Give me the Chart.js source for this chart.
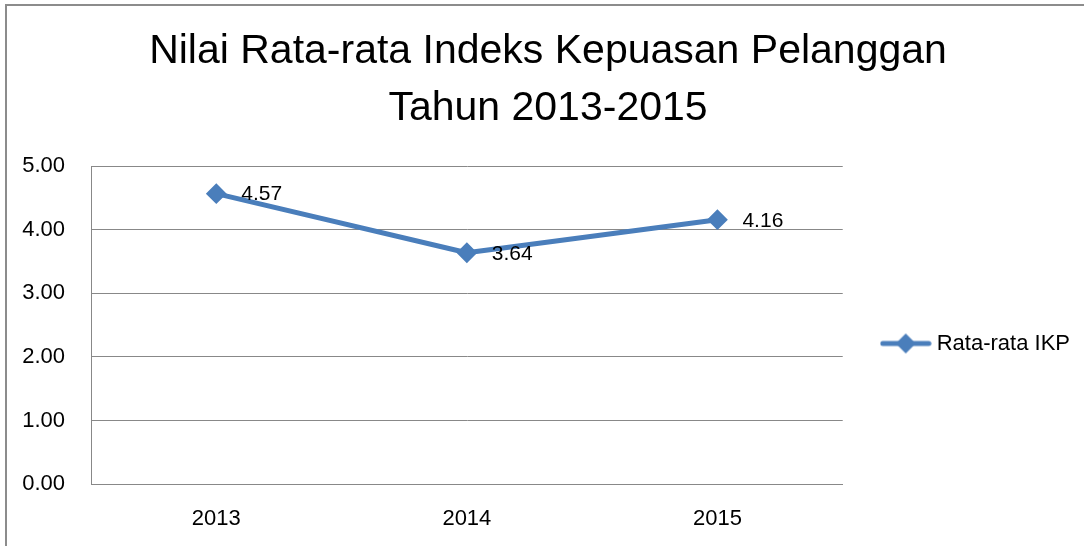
<!DOCTYPE html>
<html>
<head>
<meta charset="utf-8">
<title>Nilai Rata-rata Indeks Kepuasan Pelanggan</title>
<script src="https://cdn.jsdelivr.net/npm/chart.js@4/dist/chart.umd.min.js"></script>
<style>
  html, body { margin: 0; padding: 0; background: #fff; overflow: hidden; }
  .wrap { position: relative; width: 1084px; height: 546px; }
  .frame {
    position: absolute; left: 5px; top: 4px; width: 1200px; height: 700px;
    border-top: 2px solid #8c8c8c; border-left: 2px solid #8c8c8c;
  }
  #myChart { position: absolute; left: 0; top: 0; }
</style>
</head>
<body>
<div class="wrap">
  <div class="frame"></div>
  <canvas id="myChart" width="1084" height="546"></canvas>
</div>
<script>
const years = ['2013', '2014', '2015'];
const ikpValues = [4.57, 3.64, 4.16];
const seriesName = 'Rata-rata IKP';
const titleLines = ['Nilai Rata-rata Indeks Kepuasan Pelanggan', 'Tahun 2013-2015'];

const blue = '#4a7ebb';
const gray = '#888888';
Chart.defaults.font.family = "'Liberation Sans', Arial, sans-serif";
Chart.defaults.color = '#000';

// legend sample: line with a diamond in the middle
const legendMark = document.createElement('canvas');
legendMark.width = 52;
legendMark.height = 22;
(function() {
  const c = legendMark.getContext('2d');
  c.strokeStyle = blue;
  c.fillStyle = blue;
  c.lineWidth = 5;
  c.lineCap = 'round';
  c.beginPath();
  c.moveTo(3, 11);
  c.lineTo(49, 11);
  c.stroke();
  c.beginPath();
  c.moveTo(26 - 10, 11);
  c.lineTo(26, 1);
  c.lineTo(26 + 10, 11);
  c.lineTo(26, 21);
  c.closePath();
  c.fill();
})();

// value labels right of each point
const pointLabels = {
  id: 'pointLabels',
  afterDatasetsDraw(chart) {
    const ctx = chart.ctx;
    const meta = chart.getDatasetMeta(0);
    ctx.save();
    ctx.font = "21px 'Liberation Sans', Arial, sans-serif";
    ctx.fillStyle = '#000';
    ctx.textAlign = 'left';
    ctx.textBaseline = 'middle';
    meta.data.forEach(function(pt, i) {
      ctx.fillText(ikpValues[i].toFixed(2), pt.x + 25, pt.y + 1);
    });
    ctx.restore();
  }
};

const ctx = document.getElementById('myChart').getContext('2d');
const chart = new Chart(ctx, {
  type: 'line',
  data: {
    labels: years,
    datasets: [{
      label: seriesName,
      data: ikpValues,
      borderColor: blue,
      backgroundColor: blue,
      borderWidth: 5,
      borderJoinStyle: 'round',
      tension: 0,
      pointStyle: 'rectRot',
      pointRadius: 9,
      pointBorderWidth: 2,
      pointBackgroundColor: blue,
      pointBorderColor: blue,
    }]
  },
  options: {
    responsive: false,
    animation: false,
    layout: { padding: { left: 16, right: 4, top: 0, bottom: 0 } },
    plugins: {
      title: {
        display: true,
        text: titleLines,
        color: '#000',
        font: { size: 41, weight: 'normal', lineHeight: 1.37 },
        padding: { top: 24, bottom: 30 }
      },
      legend: {
        position: 'right',
        // empty title only pushes the entry down
        title: { display: true, text: ' ', font: { size: 13, lineHeight: 1 }, padding: 64 },
        labels: {
          usePointStyle: true,
          pointStyleWidth: 40,
          padding: 43,
          color: '#000',
          font: { size: 22 },
          generateLabels: function(chart) {
            return [{
              text: seriesName,
              pointStyle: legendMark,
              fillStyle: blue,
              strokeStyle: blue,
              lineWidth: 0,
              datasetIndex: 0
            }];
          }
        }
      },
      tooltip: { enabled: false }
    },
    scales: {
      x: {
        offset: true,
        grid: { display: false },
        border: { display: true, color: gray, width: 1 },
        ticks: { padding: 14, font: { size: 22 }, color: '#000' },
        afterFit: function(scale) { scale.height = 62; }
      },
      y: {
        min: 0,
        max: 5,
        grid: { color: gray, lineWidth: 1, drawTicks: false },
        border: { display: true, color: gray, width: 1 },
        ticks: {
          stepSize: 1,
          padding: 26,
          font: { size: 22 },
          color: '#000',
          callback: function(v) { return v.toFixed(2); }
        },
        afterFit: function(scale) { scale.width = 75; }
      }
    }
  },
  plugins: [pointLabels]
});
</script>
</body>
</html>
